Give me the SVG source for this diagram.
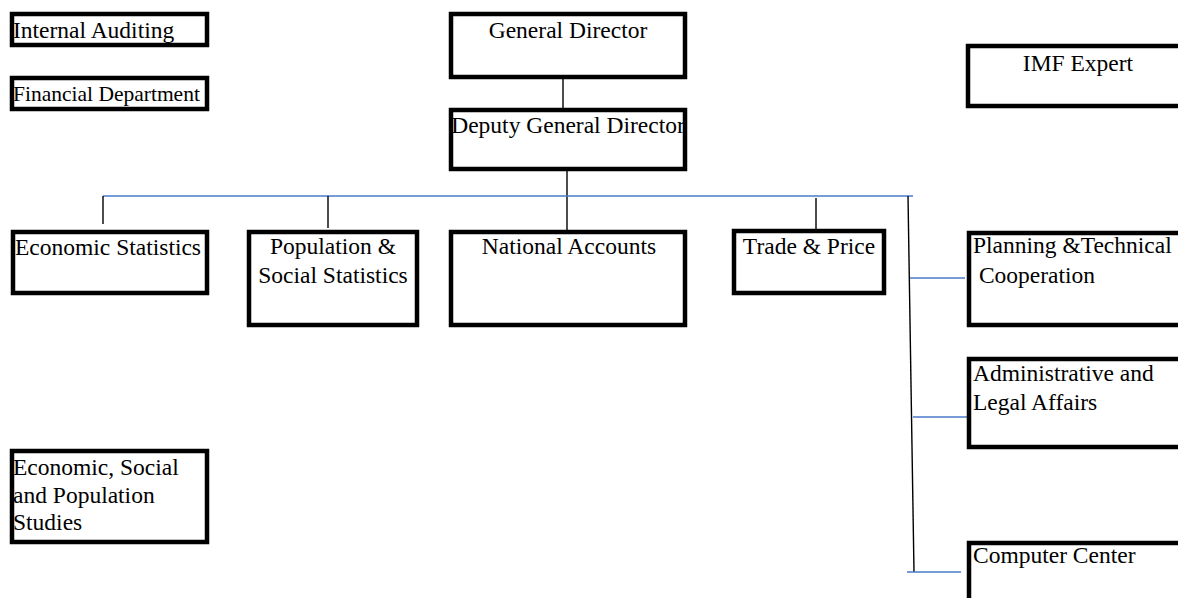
<svg xmlns="http://www.w3.org/2000/svg" width="1178" height="598" viewBox="0 0 1178 598">
  <style>
    .box { fill: #ffffff; stroke: #000000; stroke-width: 4.5; }
    .lbl { font-family: "Liberation Serif", "Times New Roman", serif; font-size: 23.5px; fill: #000000; }
    .mid { text-anchor: middle; }
    .small { font-size: 21.5px; }
    .tick { stroke: #000000; stroke-width: 1.4; fill: none; }
    .bar { stroke: #4a7ac8; stroke-width: 1.6; fill: none; }
  </style>
  <rect width="1178" height="598" fill="#ffffff"/>

  <!-- connectors -->
  <g id="connectors">
    <line class="tick" x1="563" y1="79" x2="563" y2="108"/>
    <line class="tick" x1="567" y1="171" x2="567" y2="230"/>
    <line class="bar" x1="103" y1="196" x2="913" y2="196"/>
    <line class="tick" x1="103" y1="196" x2="103" y2="224"/>
    <line class="tick" x1="328" y1="196" x2="328" y2="228"/>
    <line class="tick" x1="816" y1="198" x2="816" y2="229"/>
    <line class="tick" x1="908" y1="196" x2="914" y2="572"/>
    <line class="bar" x1="910" y1="278" x2="965" y2="278"/>
    <line class="bar" x1="913" y1="417" x2="967" y2="417"/>
    <line class="bar" x1="907" y1="572" x2="961" y2="572"/>
  </g>

  <g id="internal-auditing">
    <rect class="box" x="12" y="14" width="195" height="31"/>
    <text class="lbl" x="13" y="38">Internal Auditing</text>
  </g>

  <g id="financial-department">
    <rect class="box" x="12" y="78" width="195" height="31"/>
    <text class="lbl small" x="13" y="101">Financial Department</text>
  </g>

  <g id="general-director">
    <rect class="box" x="451" y="14" width="234" height="63"/>
    <text class="lbl mid" x="568" y="38">General Director</text>
  </g>

  <g id="deputy-general-director">
    <rect class="box" x="451" y="110" width="234" height="59"/>
    <text class="lbl mid" x="568" y="133">Deputy General Director</text>
  </g>

  <g id="imf-expert">
    <rect class="box" x="968" y="46" width="224" height="60"/>
    <text class="lbl mid" x="1078" y="71">IMF Expert</text>
  </g>

  <g id="economic-statistics">
    <rect class="box" x="13" y="232" width="194" height="61"/>
    <text class="lbl" x="15" y="255">Economic Statistics</text>
  </g>

  <g id="population-social-statistics">
    <rect class="box" x="249" y="232" width="168" height="93"/>
    <text class="lbl mid" x="333" y="254">Population &amp;</text>
    <text class="lbl mid" x="333" y="283">Social Statistics</text>
  </g>

  <g id="national-accounts">
    <rect class="box" x="451" y="232" width="234" height="93"/>
    <text class="lbl mid" x="569" y="254">National Accounts</text>
  </g>

  <g id="trade-price">
    <rect class="box" x="734" y="231" width="150" height="62"/>
    <text class="lbl mid" x="809" y="254">Trade &amp; Price</text>
  </g>

  <g id="planning-technical-cooperation">
    <rect class="box" x="969" y="233" width="230" height="92"/>
    <text class="lbl" x="973" y="253">Planning &amp;Technical</text>
    <text class="lbl" x="973" y="283" xml:space="preserve"> Cooperation</text>
  </g>

  <g id="administrative-legal-affairs">
    <rect class="box" x="969" y="359" width="230" height="88"/>
    <text class="lbl" x="973" y="381">Administrative and</text>
    <text class="lbl" x="973" y="410">Legal Affairs</text>
  </g>

  <g id="computer-center">
    <rect class="box" x="969" y="543" width="230" height="80"/>
    <text class="lbl" x="973" y="563">Computer Center</text>
  </g>

  <g id="economic-social-population-studies">
    <rect class="box" x="12" y="451" width="195" height="91"/>
    <text class="lbl" x="13" y="475">Economic, Social</text>
    <text class="lbl" x="13" y="503">and Population</text>
    <text class="lbl" x="13" y="530">Studies</text>
  </g>
</svg>
